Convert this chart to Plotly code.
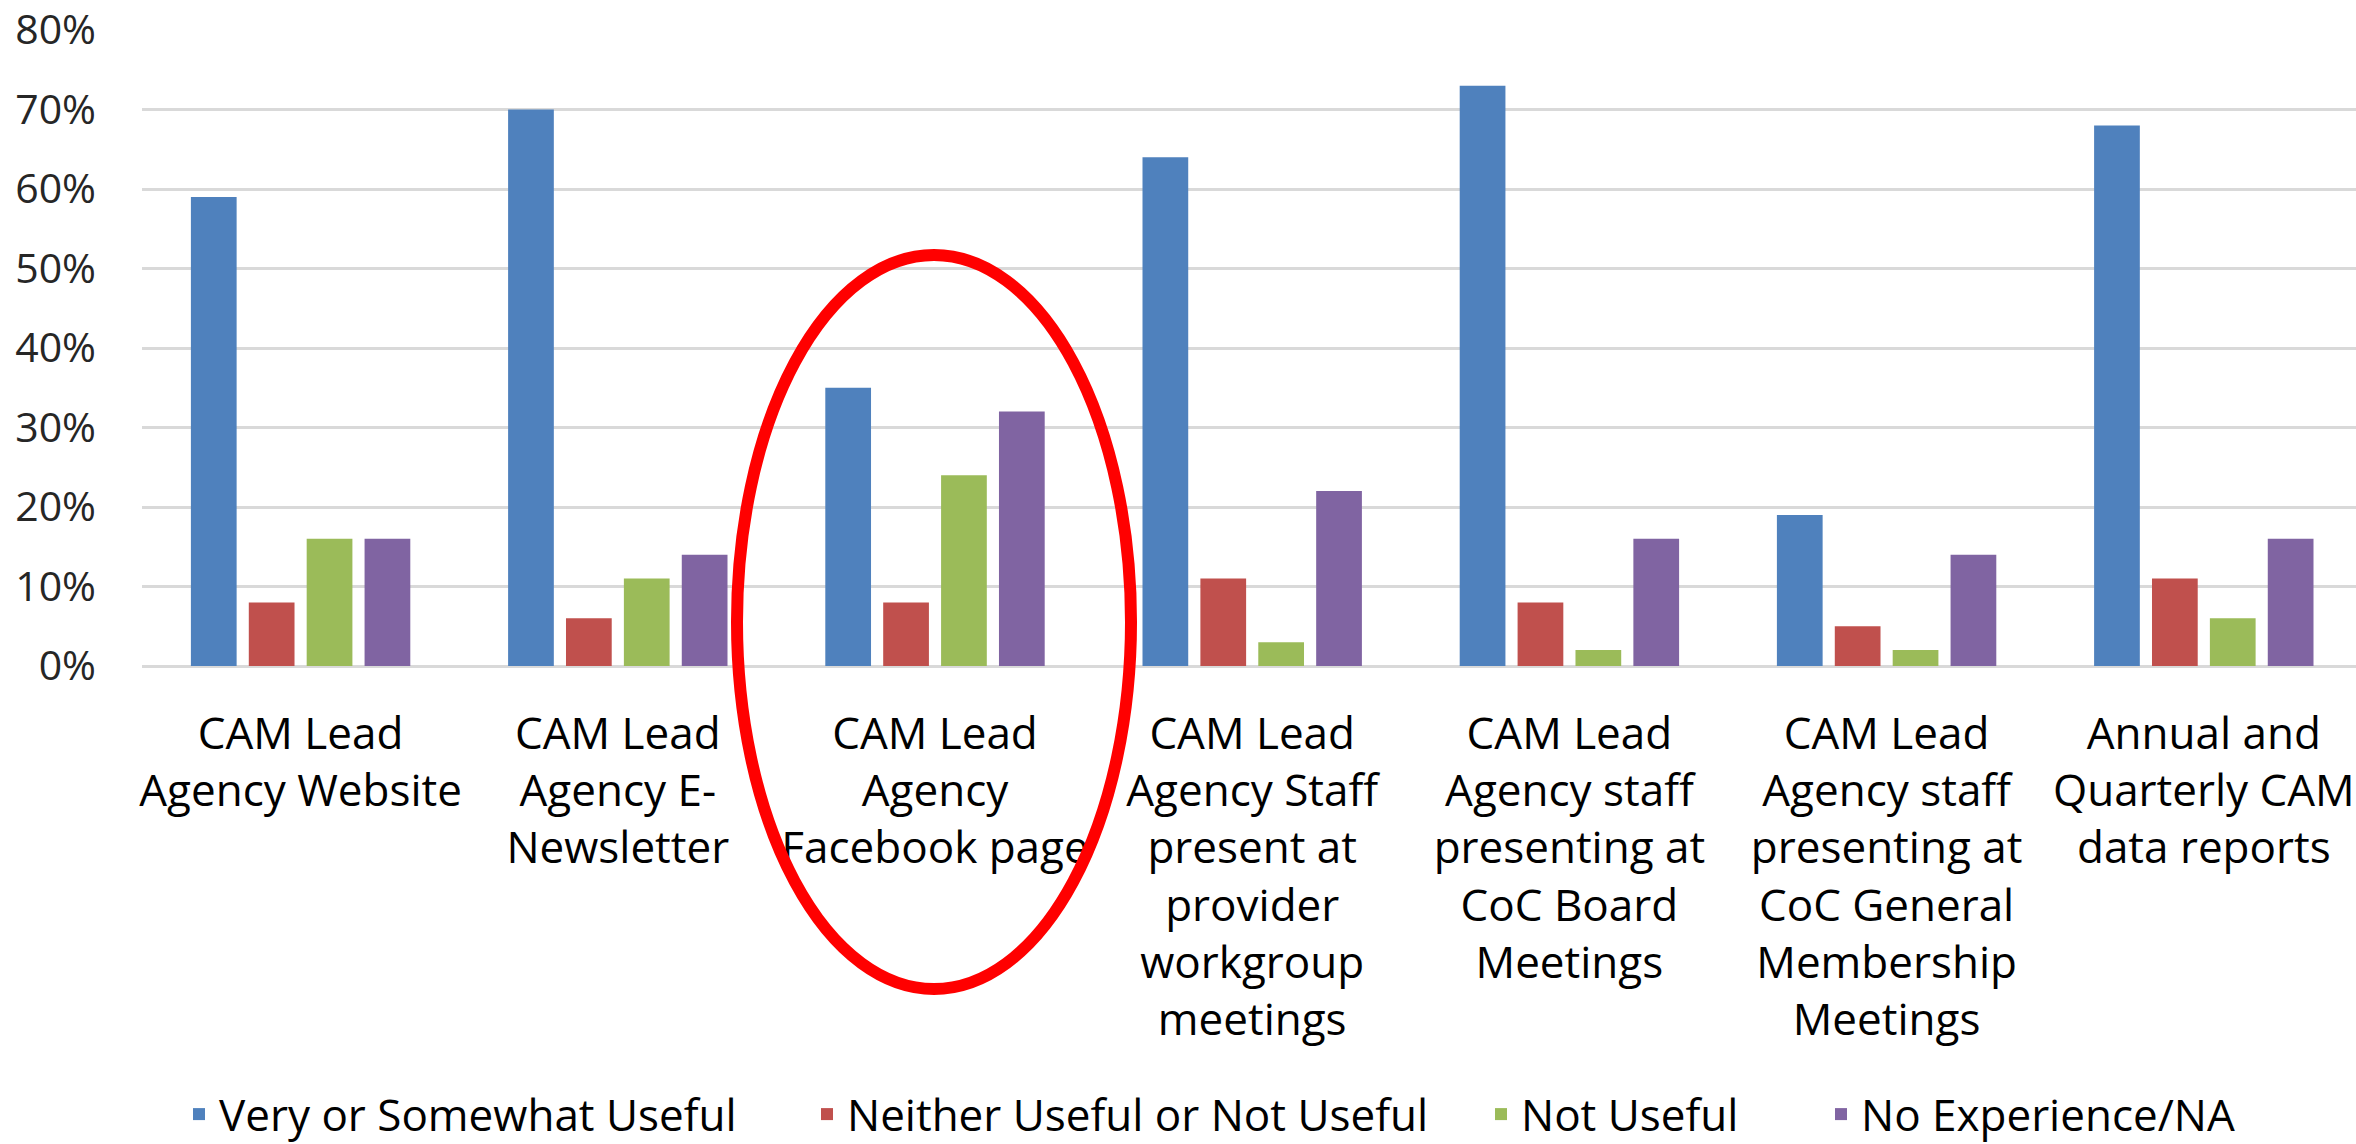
import plotly.graph_objects as go

categories = [
    "CAM Lead<br>Agency Website",
    "CAM Lead<br>Agency E-<br>Newsletter",
    "CAM Lead<br>Agency<br>Facebook page",
    "CAM Lead<br>Agency Staff<br>present at<br>provider<br>workgroup<br>meetings",
    "CAM Lead<br>Agency staff<br>presenting at<br>CoC Board<br>Meetings",
    "CAM Lead<br>Agency staff<br>presenting at<br>CoC General<br>Membership<br>Meetings",
    "Annual and<br>Quarterly CAM<br>data reports",
]
series_names = ["Very or Somewhat Useful", "Neither Useful or Not Useful", "Not Useful", "No Experience/NA"]
very_useful = [59, 70, 35, 64, 73, 19, 68]
neither = [8, 6, 8, 11, 8, 5, 11]
not_useful = [16, 11, 24, 3, 2, 2, 6]
no_experience = [16, 14, 32, 22, 16, 14, 16]
y_ticks = [0, 10, 20, 30, 40, 50, 60, 70, 80]
y_tick_labels = ["0%", "10%", "20%", "30%", "40%", "50%", "60%", "70%", "80%"]

colors = ["#4F81BD", "#C0504D", "#9BBB59", "#8064A2"]
series_values = [very_useful, neither, not_useful, no_experience]
legend_ids = ["legend", "legend2", "legend3", "legend4"]

fig = go.Figure()
for name, vals, col, lg in zip(series_names, series_values, colors, legend_ids):
    fig.add_trace(go.Bar(
        x=categories, y=vals, name=name, legend=lg,
        marker=dict(color=col, line=dict(width=0)),
    ))

W, H = 2356, 1144
L, R, T, B = 142, 0, 30, 478
pw, ph = W - L - R, H - T - B
cat_w = 317.2  # pixel width of one category slot (plot area runs past the right edge)
x_range = [-0.5, -0.5 + pw / cat_w]


def px_x(p):
    return (p - L) / pw


def px_y(p):
    return (H - B - p) / ph


legend_font = dict(family="Open Sans", size=44, color="#000000")
legend_lefts = [179, 807, 1481, 1821]
legend_cfg = {}
for lg, left in zip(legend_ids, legend_lefts):
    legend_cfg[lg] = dict(
        orientation="h", x=px_x(left), xanchor="left", y=px_y(H + 6), yanchor="bottom",
        font=legend_font, bgcolor="rgba(0,0,0,0)",
    )

fig.update_layout(
    width=W, height=H,
    margin=dict(l=L, r=R, t=T, b=B, autoexpand=False),
    paper_bgcolor="white", plot_bgcolor="white",
    barmode="group", bargap=0.27, bargroupgap=0.21,
    font=dict(family="Open Sans", color="#000000"),
    showlegend=True,
    **legend_cfg,
)
fig.update_yaxes(
    range=[0, 80], tickvals=y_ticks, ticktext=y_tick_labels,
    showgrid=True, gridcolor="#D9D9D9", gridwidth=3,
    zeroline=True, zerolinecolor="#D9D9D9", zerolinewidth=3,
    showline=False, ticks="", ticklabelstandoff=45, ticklabeloverflow="allow",
    tickfont=dict(family="Open Sans", size=41, color="#262626"),
)
fig.update_xaxes(
    range=x_range,
    showgrid=False, showline=False, ticks="", ticklabelstandoff=38,
    tickfont=dict(family="Open Sans", size=44, color="#000000"),
    tickangle=0, ticklabeloverflow="allow",
)

# red highlight ellipse around the Facebook group
fig.add_shape(type="circle", xref="paper", yref="paper",
              x0=px_x(737), x1=px_x(1131), y0=px_y(989), y1=px_y(255),
              line=dict(color="#FF0000", width=12), fillcolor="rgba(0,0,0,0)", layer="above")

fig.write_html("out.html", config={"displayModeBar": False},
               post_script="document.body.style.margin='0px';")
